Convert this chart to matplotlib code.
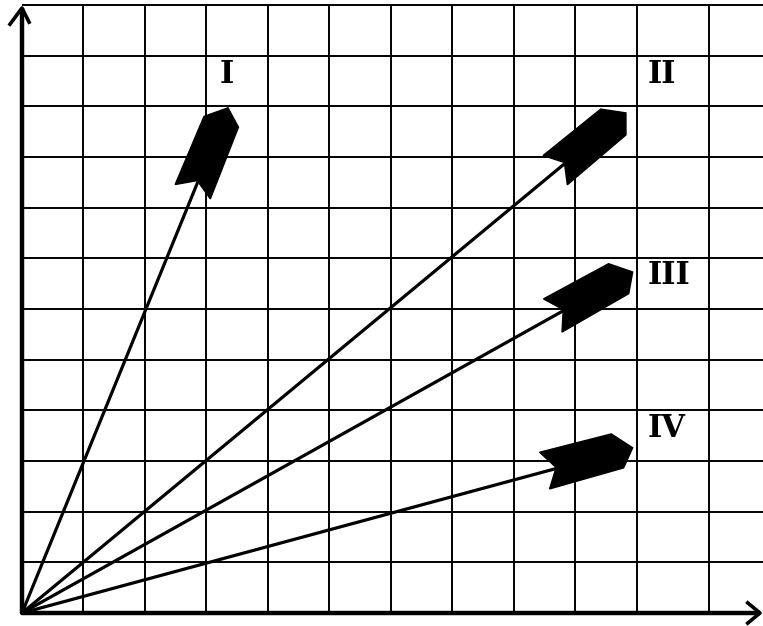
import numpy as np
import matplotlib.pyplot as plt
from matplotlib.patches import Polygon
from matplotlib.transforms import Affine2D, ScaledTranslation

# grid lines, in grid units (the last column is a bit wider in the original)
grid_x = [1, 2, 3, 4, 5, 6, 7, 8, 9, 10, 11.17]
grid_y = [1, 2, 3, 4, 5, 6, 7, 8, 9, 10, 11, 12]

# vectors from the origin
vec_names = ['I', 'II', 'III', 'IV']
tip_x = [3.35, 9.82, 9.93, 9.93]
tip_y = [9.97, 9.87, 6.73, 3.26]

# label anchors
label_x = [3.22, 10.18, 10.18, 10.18]
label_y = [10.62, 10.62, 6.67, 3.65]

# chunky swallow-tail arrow head, in pixels (u along the vector, v to its left)
head_shape = np.array([[0, 0], [-17, 19], [-91, 20], [-79, 1],
                       [-91, -18], [-14, -17]], dtype=float)

fig = plt.figure(figsize=(7.63, 6.26), dpi=100)
ax = fig.add_axes([0, 0, 1, 1])
ax.axis('off')
ax.set_xlim(-0.3577, 12.049)
ax.set_ylim(-0.2566, 12.098)

# grid
ax.vlines(grid_x, 0, grid_y[-1], color='black', lw=1.4, zorder=1)
ax.hlines(grid_y, 0, 12.1, color='black', lw=1.4, zorder=1)

# axes with open arrow heads
ax.plot([0, 0], [0, 11.94], color='black', lw=3.2, zorder=4, solid_capstyle='butt')
ax.plot([0, 12.0], [0, 0], color='black', lw=3.2, zorder=4, solid_capstyle='butt')
ax.plot([-0.195, 0, 0.115], [11.62, 11.94, 11.66], color='black', lw=2.6, zorder=4)
ax.plot([11.8, 12.0, 11.8], [0.2, 0, -0.2], color='black', lw=2.6, zorder=4)

# vectors
for name, tx, ty, lx, ly in zip(vec_names, tip_x, tip_y, label_x, label_y):
    ax.plot([0, tx * 0.9], [0, ty * 0.9], color='black', lw=2.3, zorder=2)
    p0 = ax.transData.transform((0, 0))
    p1 = ax.transData.transform((tx, ty))
    ang = np.arctan2(p1[1] - p0[1], p1[0] - p0[0])
    tr = (Affine2D().rotate(ang).scale(1 / 100.0) + fig.dpi_scale_trans
          + ScaledTranslation(tx, ty, ax.transData))
    ax.add_patch(Polygon(head_shape, closed=True, facecolor='black',
                         edgecolor='black', lw=1, transform=tr, zorder=3))
    ax.text(lx, ly, name, fontsize=22, fontweight='bold', family='DejaVu Serif',
            ha='left', va='center', color='black', zorder=5)

fig.savefig('out.png', dpi=100)
